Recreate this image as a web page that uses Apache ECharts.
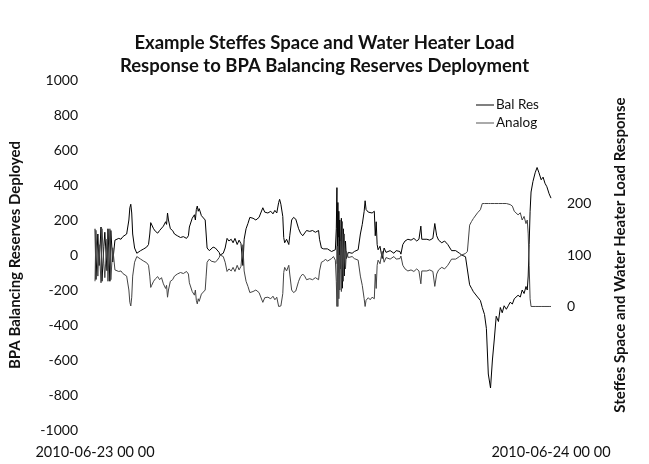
<!DOCTYPE html>
<html>
<head>
<meta charset="utf-8">
<script src="https://cdn.jsdelivr.net/npm/echarts@6/dist/echarts.min.js"></script>
<style>
html,body{margin:0;padding:0;background:#fff;}
#chart{width:649px;height:464px;}
</style>
</head>
<body>
<div id="chart"></div>
<script>
// minutes after 2010-06-23 00:00
var times = [0,3,9,13,19,22,28,31,38,41,47,50,56,63,
69,75,82,88,94,100,107,110,113,116,119,
125,132,138,144,154,163,169,173,176,179,
185,191,198,204,210,216,223,226,229,232,
238,245,251,260,270,279,289,295,298,304,
307,314,317,320,323,326,329,336,342,348,
351,354,361,367,373,380,386,392,395,398,
405,411,417,423,430,436,442,449,455,461,
464,467,471,477,483,489,499,508,518,524,
530,536,546,555,562,568,574,580,583,587,
593,596,599,605,612,615,621,627,634,640,
643,649,656,662,668,678,687,696,706,709,
715,722,728,734,740,747,753,759,762,764,
765,767,769,770,772,773,775,778,781,784,
787,791,794,800,806,812,819,825,831,838,
844,850,853,856,863,869,875,882,885,888,
891,894,900,907,913,919,925,932,938,944,
951,957,963,966,972,979,988,998,1007,1016,
1023,1029,1032,1038,1048,1057,1067,1073,1076,1079,
1085,1095,1104,1114,1120,1126,1132,1139,1145,1151,
1158,1164,1170,1176,1183,1189,1195,1201,1208,1217,
1223,1230,1236,1242,1249,1255,1261,1267,1274,1280,
1286,1292,1299,1305,1311,1318,1324,1330,1336,1343,
1349,1355,1361,1365,1368,1371,1374,1377,1383,1390,
1396,1402,1409,1415,1421,1427,1434,1440];

var balRes = [150,-140,120,-60,160,-150,50,130,-90,150,-150,140,-40,85,
80,95,90,105,100,120,200,270,290,240,120,
40,10,0,25,35,45,60,120,185,175,
150,135,125,140,130,165,190,175,240,200,
150,140,120,110,100,105,95,110,160,150,
210,230,200,260,280,250,265,225,215,200,
120,40,25,35,45,40,30,15,0,5,
10,40,95,80,90,70,95,60,85,65,
75,-60,90,150,180,215,210,200,215,205,
270,245,240,250,235,255,240,300,318,290,
220,100,70,90,60,110,200,215,205,210,
150,125,110,120,140,135,140,130,140,90,
40,35,25,35,30,20,10,30,150,385,
-50,300,-100,250,0,200,-80,210,-190,150,
-120,80,-20,15,20,10,20,15,30,120,
175,250,310,260,245,255,240,250,110,190,
60,30,50,-20,40,15,20,25,20,10,
25,30,20,5,60,80,90,85,95,80,
90,165,90,95,90,85,95,180,170,110,
85,70,80,60,55,25,15,25,20,10,
0,5,-10,-20,-170,-190,-210,-200,-240,-260,
-300,-340,-420,-680,-760,-600,-480,-350,-380,-300,
-330,-290,-310,-290,-270,-280,-250,-260,-230,-240,
-200,-220,-180,-200,-120,60,250,360,420,470,
500,470,430,445,410,390,350,325];

var analog = [49,148,59,120,46,151,83,56,131,49,151,52,114,71,
73,68,69,64,66,59,32,8,1,18,59,
86,97,100,92,88,85,80,59,37,41,
49,54,58,52,56,44,35,41,18,32,
49,52,59,63,66,64,68,63,46,49,
29,22,32,12,5,15,10,24,27,32,
59,86,92,88,85,86,90,95,100,98,
97,86,68,73,69,76,68,80,71,78,
75,120,69,49,39,27,29,32,27,30,
8,17,18,15,20,13,18,0,0,1,
25,66,76,69,80,63,32,27,30,29,
49,58,63,59,52,54,52,56,52,69,
86,88,92,88,90,93,97,90,49,0,
117,0,134,15,100,32,127,29,165,49,
141,73,107,95,93,97,93,95,90,59,
41,15,0,12,17,13,18,15,63,35,
80,90,83,107,86,95,93,92,93,97,
92,90,93,98,80,73,69,71,68,73,
69,44,69,68,69,71,68,39,42,63,
71,76,73,80,81,92,95,92,93,97,
100,98,103,107,158,165,171,168,182,188,
200,200,200,200,200,200,200,200,200,200,
200,199,200,199,198,195,185,188,178,182,
168,175,161,168,141,80,15,0,0,0,
0,0,0,0,0,0,0,0];

var xTickLabels = {0: '2010-06-23 00 00', 1440: '2010-06-24 00 00'};
var rightTickLabels = [0, 100, 200];

var titleText = 'Example Steffes Space and Water Heater Load\nResponse to BPA Balancing Reserves Deployment';
var leftName = 'BPA Balancing Reserves Deployed';
var rightName = 'Steffes Space and Water Heater Load Response';

function pairs(xs, ys){ return xs.map(function(t,i){ return [t, ys[i]]; }); }

var FONT = 'Lato';
var chart = echarts.init(document.getElementById('chart'), null, {renderer:'canvas'});
chart.setOption({
  animation: false,
  backgroundColor: '#fff',
  title: {
    text: titleText, left: 'center', top: 27,
    textStyle: {fontFamily: FONT, fontWeight: 'bold', fontSize: 18.5, lineHeight: 23, color: '#111'}
  },
  legend: {
    orient: 'vertical', left: 471, top: 93, itemGap: 4,
    icon: 'rect', itemWidth: 18, itemHeight: 1,
    textStyle: {fontFamily: FONT, fontSize: 13.5, color: '#111', padding: [0,0,0,-3]},
    data: ['Bal Res', 'Analog']
  },
  grid: {left: 92, right: 98, top: 80, bottom: 34},
  xAxis: {
    type: 'value', min: 0, max: 1440, interval: 1440,
    axisLine: {show: false}, axisTick: {show: false}, splitLine: {show: false},
    axisLabel: {
      margin: 15, fontFamily: FONT, fontSize: 14.5, color: '#111',
      formatter: function(v){ return xTickLabels[v] || ''; }
    }
  },
  yAxis: [{
    type: 'value', min: -1000, max: 1000, interval: 200, position: 'left',
    name: leftName, nameLocation: 'middle', nameGap: 72, nameRotate: 90,
    nameTextStyle: {fontFamily: FONT, fontWeight: 'bold', fontSize: 15, color: '#111'},
    axisLine: {show: false}, axisTick: {show: false}, splitLine: {show: false},
    axisLabel: {margin: 17, fontFamily: FONT, fontSize: 14, color: '#111',
      formatter: function(v){ return String(v); }}
  }, {
    type: 'value', min: -240, max: 440, interval: 20, position: 'right',
    name: rightName, nameLocation: 'middle', nameGap: 62, nameRotate: 90,
    nameTextStyle: {fontFamily: FONT, fontWeight: 'bold', fontSize: 15, color: '#111'},
    axisLine: {show: false}, axisTick: {show: false}, splitLine: {show: false},
    axisLabel: {
      margin: 16, fontFamily: FONT, fontSize: 14, color: '#111',
      formatter: function(v){ return rightTickLabels.indexOf(v) >= 0 ? String(v) : ''; }
    }
  }],
  series: [{
    name: 'Bal Res', type: 'line', yAxisIndex: 0, data: pairs(times, balRes),
    showSymbol: false, symbol: 'none', lineStyle: {color: '#000', width: 1}, itemStyle: {color: '#000'}
  }, {
    name: 'Analog', type: 'line', yAxisIndex: 1, data: pairs(times, analog),
    showSymbol: false, symbol: 'none', lineStyle: {color: '#444', width: 1}, itemStyle: {color: '#555'}
  }]
});
</script>
</body>
</html>
